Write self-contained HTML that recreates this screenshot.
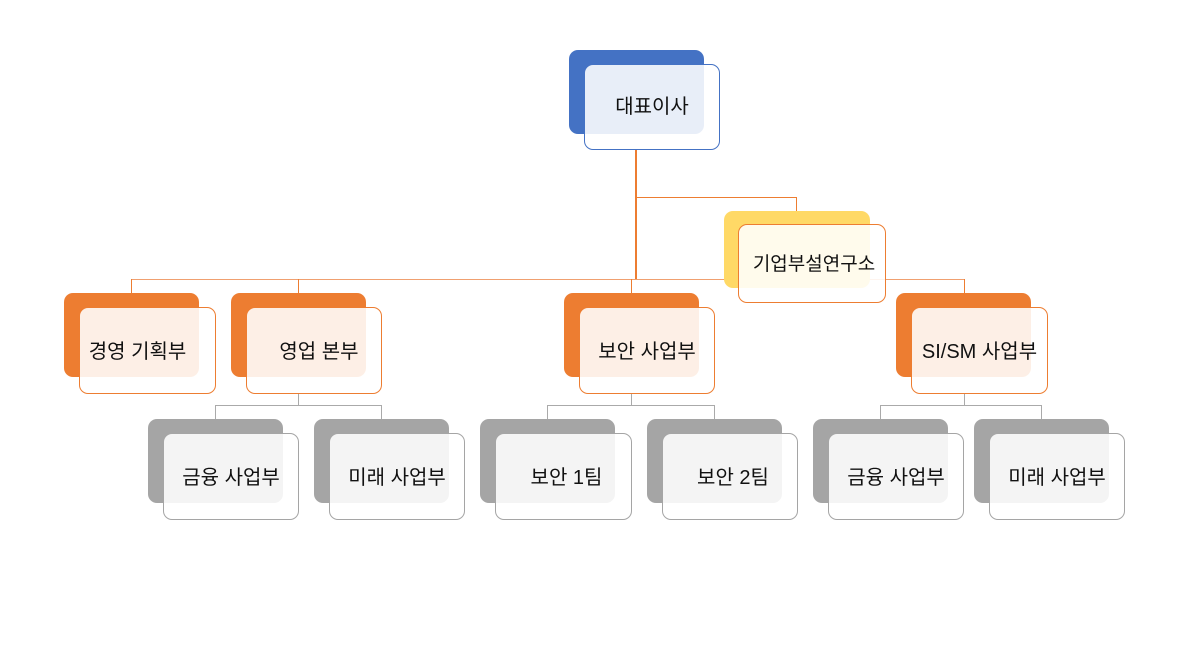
<!DOCTYPE html>
<html><head><meta charset="utf-8"><style>
body{margin:0;width:1203px;height:651px;background:#fff;position:relative;overflow:hidden;font-family:"Liberation Sans","Noto Sans CJK KR",sans-serif}
.b{position:absolute;border-radius:9px}
.f{position:absolute;border-radius:9px;background:rgba(255,255,255,0.88);border:1.3px solid;box-sizing:border-box;display:flex;align-items:center;justify-content:center;padding-bottom:2px;font-size:20px;color:#111;white-space:nowrap}
.l{position:absolute}
</style></head><body>
<div class="l" style="left:635px;top:149px;width:2px;height:131px;background:#ed7d31"></div>
<div class="l" style="left:636px;top:197px;width:161px;height:1px;background:#ed7d31"></div>
<div class="l" style="left:796px;top:197px;width:1px;height:14px;background:#ed7d31"></div>
<div class="l" style="left:131px;top:279px;width:833px;height:1px;background:#f0a070"></div>
<div class="l" style="left:131px;top:279px;width:1px;height:14px;background:#ed7d31"></div>
<div class="l" style="left:298px;top:279px;width:1px;height:14px;background:#ed7d31"></div>
<div class="l" style="left:631px;top:279px;width:1px;height:14px;background:#ed7d31"></div>
<div class="l" style="left:964px;top:279px;width:1px;height:14px;background:#ed7d31"></div>

<div class="l" style="left:298px;top:393px;width:1px;height:12px;background:#aaa"></div>
<div class="l" style="left:215px;top:405px;width:167px;height:1px;background:#aaa"></div>
<div class="l" style="left:215px;top:405px;width:1px;height:14px;background:#aaa"></div>
<div class="l" style="left:381px;top:405px;width:1px;height:14px;background:#aaa"></div>
<div class="l" style="left:631px;top:393px;width:1px;height:12px;background:#aaa"></div>
<div class="l" style="left:547px;top:405px;width:168px;height:1px;background:#aaa"></div>
<div class="l" style="left:547px;top:405px;width:1px;height:14px;background:#aaa"></div>
<div class="l" style="left:714px;top:405px;width:1px;height:14px;background:#aaa"></div>
<div class="l" style="left:964px;top:393px;width:1px;height:12px;background:#aaa"></div>
<div class="l" style="left:880px;top:405px;width:162px;height:1px;background:#aaa"></div>
<div class="l" style="left:880px;top:405px;width:1px;height:14px;background:#aaa"></div>
<div class="l" style="left:1041px;top:405px;width:1px;height:14px;background:#aaa"></div>

<div class="b" style="left:569px;top:50px;width:135px;height:84px;background:#4472c4"></div>
<div class="f" style="left:584px;top:64px;width:136px;height:86px;border-color:#4472c4;padding-bottom:6px">대표이사</div>

<div class="b" style="left:724px;top:211px;width:146px;height:77px;background:#ffd966"></div>
<div class="f" style="left:738px;top:224px;width:148px;height:79px;border-color:#ed7d31;font-size:19px;padding-left:4px">기업부설연구소</div>

<div class="b" style="left:64px;top:293px;width:135px;height:84px;background:#ed7d31"></div>
<div class="f" style="left:79px;top:307px;width:137px;height:87px;border-color:#ed7d31;padding-right:20px">경영 기획부</div>
<div class="b" style="left:231px;top:293px;width:135px;height:84px;background:#ed7d31"></div>
<div class="f" style="left:246px;top:307px;width:136px;height:87px;border-color:#ed7d31;padding-left:10px">영업 본부</div>
<div class="b" style="left:564px;top:293px;width:135px;height:84px;background:#ed7d31"></div>
<div class="f" style="left:579px;top:307px;width:136px;height:87px;border-color:#ed7d31">보안 사업부</div>
<div class="b" style="left:896px;top:293px;width:135px;height:84px;background:#ed7d31"></div>
<div class="f" style="left:911px;top:307px;width:137px;height:87px;border-color:#ed7d31">SI/SM 사업부</div>

<div class="b" style="left:148px;top:419px;width:135px;height:84px;background:#a5a5a5"></div>
<div class="f" style="left:163px;top:433px;width:136px;height:87px;border-color:#a5a5a5">금융 사업부</div>
<div class="b" style="left:314px;top:419px;width:135px;height:84px;background:#a5a5a5"></div>
<div class="f" style="left:329px;top:433px;width:136px;height:87px;border-color:#a5a5a5">미래 사업부</div>
<div class="b" style="left:480px;top:419px;width:135px;height:84px;background:#a5a5a5"></div>
<div class="f" style="left:495px;top:433px;width:137px;height:87px;border-color:#a5a5a5;padding-left:6px">보안 1팀</div>
<div class="b" style="left:647px;top:419px;width:135px;height:84px;background:#a5a5a5"></div>
<div class="f" style="left:662px;top:433px;width:136px;height:87px;border-color:#a5a5a5;padding-left:6px">보안 2팀</div>
<div class="b" style="left:813px;top:419px;width:135px;height:84px;background:#a5a5a5"></div>
<div class="f" style="left:828px;top:433px;width:136px;height:87px;border-color:#a5a5a5">금융 사업부</div>
<div class="b" style="left:974px;top:419px;width:135px;height:84px;background:#a5a5a5"></div>
<div class="f" style="left:989px;top:433px;width:136px;height:87px;border-color:#a5a5a5">미래 사업부</div>
</body></html>
